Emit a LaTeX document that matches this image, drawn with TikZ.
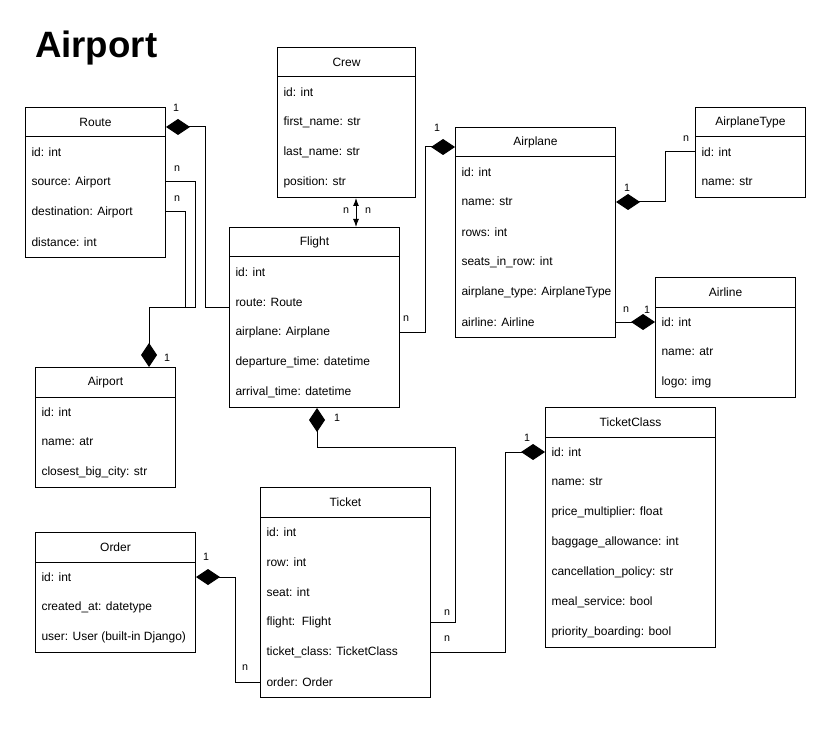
\documentclass[tikz,border=0pt]{standalone}
\usepackage{fontspec}
\setmainfont{Liberation Sans}
\usetikzlibrary{arrows.meta,calc}

\def\px{0.75pt}
\tikzset{
  classbox/.style={draw, anchor=north west, inner sep=0pt},
  classtitle/.style={font=\fontsize{9}{11}\selectfont},
  classrow/.style={anchor=west, inner sep=0pt, font=\fontsize{9}{11}\selectfont},
  mult/.style={font=\fontsize{8}{10}\selectfont, inner sep=0pt},
  comp/.style={-{Diamond[length=18pt,width=12pt]}},
  assoc/.style={{Latex[length=6pt,width=4.5pt]}-{Latex[length=6pt,width=4.5pt]}},
}
\newcommand{\umlclass}[7]{%
  \node[classbox, minimum width=#5*\px, minimum height=#6*\px] (#1) at (#3,#4) {};
  \node[classtitle] (#1-title) at ($(#1.north)+(0,15)$) {#2};
  \draw ($(#1.north west)+(0,30)$) -- ($(#1.north east)+(0,30)$);
  \foreach \rowkey/\rowtxt [count=\i] in {#7} {
    \node[classrow] (#1-\rowkey) at ($(#1.north west)+(6,15+30*\i)$) {\rowtxt};
  }%
}

\begin{document}
\begin{tikzpicture}[x=0.75pt, y=-0.75pt, line width=0.75pt]
\useasboundingbox (0,0) rectangle (831,734);
\node[font=\bfseries\fontsize{27.5}{30}\selectfont, anchor=base west, inner sep=0pt] (title) at (34.5,57.5) {Airport};
\umlclass{route}{Route}{25}{107}{140}{150}{id/id: int, source/source: Airport, dest/destination: Airport, dist/distance: int}
\umlclass{crew}{Crew}{277}{47}{138}{150}{id/id: int, fname/first\_name: str, lname/last\_name: str, pos/position: str}
\umlclass{airplane}{Airplane}{455}{127}{160}{210}{id/id: int, name/name: str, rows/rows: int, seats/seats\_in\_row: int, type/airplane\_type: AirplaneType, airline/airline: Airline}
\umlclass{atype}{AirplaneType}{695}{107}{110}{90}{id/id: int, name/name: str}
\umlclass{airline}{Airline}{655}{277}{140}{120}{id/id: int, name/name: atr, logo/logo: img}
\umlclass{flight}{Flight}{229}{227}{170}{180}{id/id: int, route/route: Route, airplane/airplane: Airplane, dep/departure\_time: datetime, arr/arrival\_time: datetime}
\umlclass{airport}{Airport}{35}{367}{140}{120}{id/id: int, name/name: atr, city/closest\_big\_city: str}
\umlclass{tclass}{TicketClass}{545}{407}{170}{240}{id/id: int, name/name: str, price/price\_multiplier: float, bag/baggage\_allowance: int, cancel/cancellation\_policy: str, meal/meal\_service: bool, prio/priority\_boarding: bool}
\umlclass{ticket}{Ticket}{260}{487}{170}{210}{id/id: int, row/row: int, seat/seat: int, flight/flight:\ \ Flight, tclass/ticket\_class: TicketClass, order/order: Order}
\umlclass{order}{Order}{35}{532}{160}{120}{id/id: int, created/created\_at: datetype, user/user: User (built-in Django)}
\coordinate (rf) at (205,307);
\coordinate (rs) at (195,307);
\coordinate (rd) at (185,307);
\coordinate (ra) at (149,307);
\coordinate (cf) at (356,0);
\coordinate (fa) at (425,147);
\coordinate (at) at (665,0);
\coordinate (ft) at (455,447);
\coordinate (fd) at (317,0);
\coordinate (tc) at (505,0);
\coordinate (ot) at (235,0);
\draw[comp] (rf -| flight.west) -- (rf) |- ($(route.north east)+(0,20)$);
\draw[comp] (route-source -| route.east) -| (rs) -- (ra) -- (ra |- airport.north);
\draw (route-dest -| route.east) -| (rd);
\draw[assoc] (cf |- crew.south) -- (cf |- flight.north);
\draw[comp] (flight-airplane -| flight.east) -| (fa) -- (fa -| airplane.west);
\draw[comp] (atype-id -| atype.west) -- (at |- atype-id) -- (at |- airplane-name) -- (airplane-name -| airplane.east);
\draw[comp] (airplane-airline -| airplane.east) -- (airline-id -| airline.west);
\draw[comp] (ticket-flight -| ticket.east) -| (ft) -| (fd |- flight.south);
\draw[comp] (ticket-tclass -| ticket.east) -- (tc |- ticket-tclass) -- (tc |- tclass-id) -- (tclass-id -| tclass.west);
\draw[comp] (ticket-order -| ticket.west) -- (ot |- ticket-order) -- (ot |- order-id) -- (order-id -| order.east);
\node[mult] (m1) at (176,108) {1};
\node[mult] (m2) at (177,169) {n};
\node[mult] (m3) at (177,199) {n};
\node[mult] (m4) at (167,358) {1};
\node[mult] (m5) at (346,211) {n};
\node[mult] (m6) at (368,211) {n};
\node[mult] (m7) at (437,128) {1};
\node[mult] (m8) at (406,319) {n};
\node[mult] (m9) at (627,188) {1};
\node[mult] (m10) at (686,139) {n};
\node[mult] (m11) at (626,310) {n};
\node[mult] (m12) at (647,310) {1};
\node[mult] (m13) at (337,418) {1};
\node[mult] (m14) at (447,613) {n};
\node[mult] (m15) at (527,438) {1};
\node[mult] (m16) at (447,639) {n};
\node[mult] (m17) at (206,557) {1};
\node[mult] (m18) at (245,668) {n};
\end{tikzpicture}
\end{document}
